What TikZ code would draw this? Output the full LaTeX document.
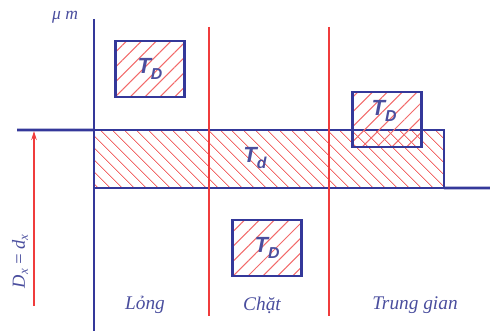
\documentclass[tikz,border=0pt]{standalone}
\usepackage{fontspec}
\setmainfont{Liberation Serif}
\setsansfont{Liberation Sans}
\usetikzlibrary{arrows.meta, patterns.meta}
\definecolor{fitblue}{HTML}{34389A}
\definecolor{fittext}{HTML}{4A4E9E}
\definecolor{fitred}{HTML}{F03C3C}
\definecolor{hatchred}{HTML}{F26A6A}
\newcommand{\tolsym}[1]{\sffamily\itshape\bfseries T\raisebox{-0.5ex}{\small #1}}

\begin{document}
\begin{tikzpicture}[x=0.02cm, y=-0.02cm,
  axis/.style={fitblue, line width=1.7pt},
  zoneline/.style={fitred, line width=0.8pt},
  holebox/.style={rectangle, draw=fitblue, line width=1.4pt, inner sep=0pt, outer sep=0pt,
                  minimum width=1.38cm, minimum height=1.12cm,
                  pattern={Lines[angle=45, distance=2.1mm, line width=0.6pt]},
                  pattern color=hatchred},
  shaftbox/.style={rectangle, draw=fitblue, line width=1.6pt, inner sep=0pt, outer sep=0pt,
                   minimum width=7cm, minimum height=1.16cm,
                   pattern={Lines[angle=-45, distance=1.8mm, line width=0.6pt]},
                   pattern color=hatchred},
  tol/.style={text=fittext, font=\fontsize{12.5}{14}\selectfont},
  fitlabel/.style={text=fittext, font=\fontsize{11}{13}\selectfont\itshape},
  dimarrow/.style={-{Stealth[length=1.8mm, width=1.1mm]}, fitred, line width=0.8pt}]
  \useasboundingbox (0,0) rectangle (490,331);
  % shaft tolerance zone
  \node[shaftbox] (shaft) at (269,159) {};
  \node[tol] (shaftlbl) at (255,158) {\tolsym{d}};
  % hole tolerance zones
  \node[holebox] (loose) at (150,69) {};
  \node[tol] (looselbl) at (loose.center) {\tolsym{D}};
  \node[holebox] (tight) at (267,248) {};
  \node[tol] (tightlbl) at (tight.center) {\tolsym{D}};
  \node[holebox, minimum height=1.1cm] (trans) at (387,119.5) {};
  \node[tol] (translbl) at (384,111) {\tolsym{D}};
  % axes
  \draw[axis] (94,19) -- (94,331);
  \draw[axis] (17,130) -- (shaft.north west);
  \draw[axis] (shaft.south east) -- (490,188);
  % zone separators
  \coordinate (sepa top) at (209,27);
  \coordinate (sepa bot) at (209,316);
  \coordinate (sepb top) at (329,27);
  \coordinate (sepb bot) at (329,316);
  \draw[zoneline] (sepa top) -- (sepa bot);
  \draw[zoneline] (sepb top) -- (sepb bot);
  % nominal size
  \coordinate (dimbot) at (34,306);
  \coordinate (dimtop) at (34,131);
  \draw[dimarrow] (dimbot) -- (dimtop);
  \node[fitlabel, rotate=90, font=\fontsize{10.5}{12}\selectfont\itshape] (nominal) at (20,261) {D\textsubscript{x}\,=\,d\textsubscript{x}};
  \node[fitlabel, font=\fontsize{10}{12}\selectfont\itshape] (unit) at (65,17) {μ m};
  % fit names
  \node[fitlabel] (long) at (145,305) {Lỏng};
  \node[fitlabel] (chat) at (262,305) {Chặt};
  \node[fitlabel] (trung) at (415,305) {Trung gian};
\end{tikzpicture}
\end{document}
